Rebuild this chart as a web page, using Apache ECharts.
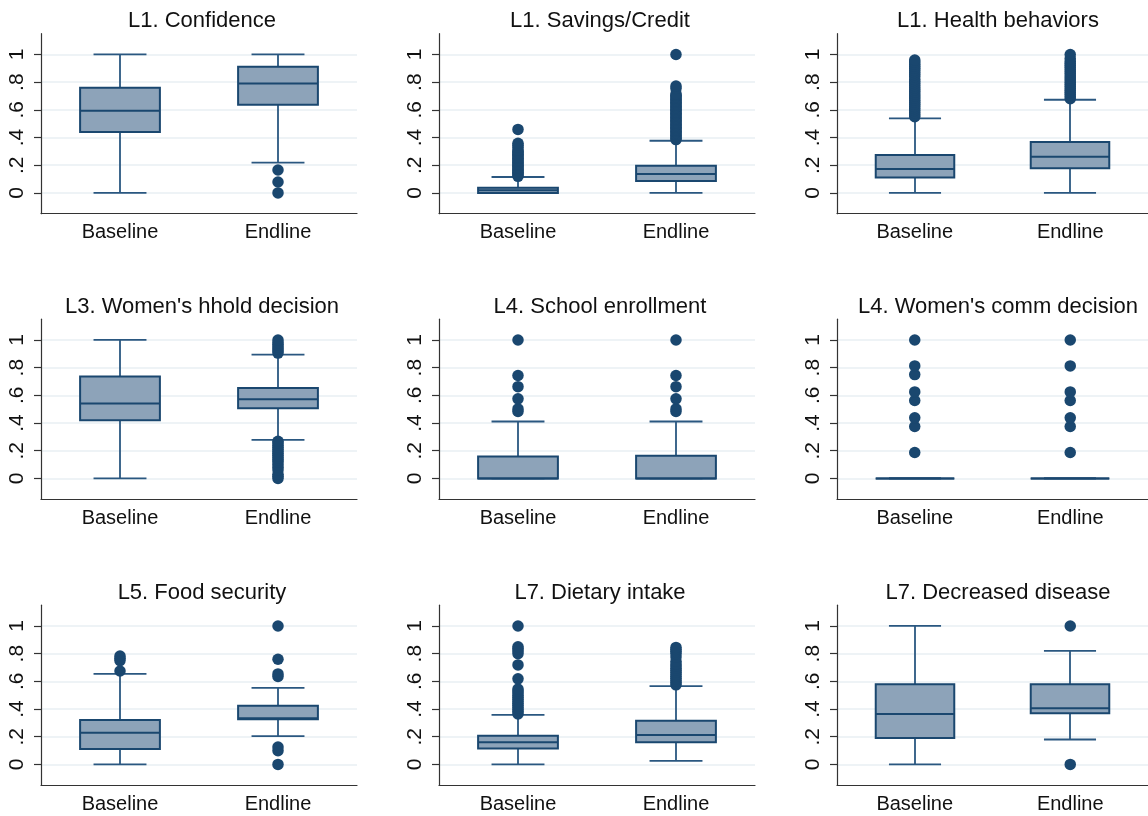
<!DOCTYPE html>
<html><head><meta charset="utf-8">
<script src="https://cdn.jsdelivr.net/npm/echarts@6/dist/echarts.min.js"></script>
<style>html,body{margin:0;padding:0;background:#fff}#c{width:1148px;height:816px}</style>
</head><body><div id="c"></div>
<script>
// ---- data ----
const groups = ['Baseline', 'Endline'];
const panelTitles = ['L1. Confidence', 'L1. Savings/Credit', 'L1. Health behaviors',
  "L3. Women's hhold decision", 'L4. School enrollment', "L4. Women's comm decision",
  'L5. Food security', 'L7. Dietary intake', 'L7. Decreased disease'];
const yTicks = [0, 0.2, 0.4, 0.6, 0.8, 1];
const yTickLabels = ['0', '.2', '.4', '.6', '.8', '1'];

// box stats: [lower whisker, q1, median, q3, upper whisker] for Baseline, Endline
const confidenceBox = [[0, 0.44, 0.594, 0.76, 1.0], [0.219, 0.637, 0.791, 0.911, 1.0]];
const confidenceOut = [[], [0.166, 0.079, 0]];

const savingsBox = [[0, 0, 0.02, 0.038, 0.115], [0, 0.087, 0.137, 0.197, 0.377]];
const savingsOut = [
  [0.12, 0.13, 0.14, 0.15, 0.16, 0.17, 0.18, 0.19, 0.2, 0.21, 0.22, 0.23, 0.24, 0.25, 0.26, 0.27, 0.28, 0.29, 0.3, 0.31, 0.33, 0.345, 0.358, 0.459],
  [0.385, 0.395, 0.405, 0.415, 0.425, 0.435, 0.445, 0.455, 0.465, 0.475, 0.485, 0.495, 0.505, 0.515, 0.525, 0.535, 0.545, 0.555, 0.565, 0.575, 0.585, 0.595, 0.605, 0.615, 0.625, 0.635, 0.645, 0.655, 0.665, 0.675, 0.685, 0.695, 0.705, 0.715, 0.755, 0.772, 1.0]];

const healthBox = [[0, 0.111, 0.173, 0.274, 0.538], [0, 0.178, 0.262, 0.368, 0.673]];
const healthOut = [
  [0.55, 0.565, 0.58, 0.595, 0.61, 0.625, 0.64, 0.655, 0.67, 0.685, 0.70, 0.715, 0.73, 0.745, 0.76, 0.775, 0.79, 0.805, 0.82, 0.84, 0.855, 0.87, 0.885, 0.90, 0.915, 0.93, 0.945, 0.96],
  [0.68, 0.695, 0.71, 0.725, 0.74, 0.755, 0.77, 0.785, 0.80, 0.815, 0.83, 0.845, 0.86, 0.875, 0.89, 0.905, 0.92, 0.935, 0.95, 0.97, 1.0]];

const hholdBox = [[0, 0.421, 0.541, 0.736, 1.0], [0.279, 0.507, 0.572, 0.654, 0.894]];
const hholdOut = [[],
  [0, 0.015, 0.03, 0.06, 0.08, 0.1, 0.12, 0.135, 0.15, 0.165, 0.18, 0.195, 0.21, 0.225, 0.24, 0.255, 0.268, 0.905, 0.92, 0.935, 0.95, 0.965, 0.98, 1.0]];

const schoolBox = [[0, 0, 0, 0.159, 0.411], [0, 0, 0, 0.164, 0.411]];
const schoolOut = [[0.483, 0.502, 0.575, 0.663, 0.743, 1.0], [0.483, 0.502, 0.575, 0.663, 0.743, 1.0]];

const commBox = [[0, 0, 0, 0, 0], [0, 0, 0, 0, 0]];
const commOut = [[0.1875, 0.375, 0.4375, 0.5625, 0.625, 0.75, 0.8125, 1.0],
  [0.1875, 0.375, 0.4375, 0.5625, 0.625, 0.8125, 1.0]];

const foodBox = [[0, 0.111, 0.228, 0.32, 0.654], [0.204, 0.327, 0.333, 0.423, 0.553]];
const foodOut = [[0.675, 0.75, 0.767, 0.783], [0, 0.099, 0.125, 0.635, 0.654, 0.76, 1.0]];

const dietBox = [[0, 0.115, 0.161, 0.207, 0.358], [0.026, 0.161, 0.212, 0.315, 0.565]];
const dietOut = [
  [0.365, 0.38, 0.395, 0.41, 0.425, 0.44, 0.455, 0.47, 0.485, 0.50, 0.515, 0.53, 0.545, 0.618, 0.719, 0.80, 0.82, 0.835, 0.85, 1.0],
  [0.575, 0.59, 0.605, 0.62, 0.635, 0.65, 0.665, 0.68, 0.695, 0.71, 0.725, 0.745, 0.775, 0.80, 0.815, 0.83, 0.845]];

const diseaseBox = [[0, 0.19, 0.365, 0.579, 1.0], [0.18, 0.37, 0.406, 0.579, 0.82]];
const diseaseOut = [[], [0, 1.0]];

const panelBoxes = [confidenceBox, savingsBox, healthBox, hholdBox, schoolBox, commBox, foodBox, dietBox, diseaseBox];
const panelOutliers = [confidenceOut, savingsOut, healthOut, hholdOut, schoolOut, commOut, foodOut, dietOut, diseaseOut];

// ---- styling / layout ----
const LINE = '#1a476f';
const WHISK = '#2a5780';
const FILL = '#8da3b9';
const GRIDC = '#e8eff3';
const AXC = '#333';
const FONT = "'Liberation Sans', Arial, Helvetica, sans-serif";
const colLeft = [41, 439, 837];
const rowTop = [33.7, 319.2, 605.2];
const titleTop = [5, 291, 577];
const GW = 316, GH = 180;

function renderBox(params, api) {
  const x = api.value(0);
  const lo = api.value(1), q1 = api.value(2), md = api.value(3), q3 = api.value(4), hi = api.value(5);
  const band = api.size([1, 0])[0];
  const bw = band * 0.505, cw = band * 0.335;
  const pLo = api.coord([x, lo]), pQ1 = api.coord([x, q1]), pMd = api.coord([x, md]);
  const pQ3 = api.coord([x, q3]), pHi = api.coord([x, hi]);
  const cx = Math.round(pLo[0]);
  const ls = { stroke: WHISK, lineWidth: 1.8 };
  return {
    type: 'group', children: [
      { type: 'line', shape: { x1: cx, y1: pQ3[1], x2: cx, y2: pHi[1] }, style: ls },
      { type: 'line', shape: { x1: cx, y1: pQ1[1], x2: cx, y2: pLo[1] }, style: ls },
      { type: 'line', shape: { x1: cx - cw / 2, y1: pHi[1], x2: cx + cw / 2, y2: pHi[1] }, style: ls },
      { type: 'line', shape: { x1: cx - cw / 2, y1: pLo[1], x2: cx + cw / 2, y2: pLo[1] }, style: ls },
      { type: 'rect', shape: { x: cx - bw / 2, y: pQ3[1], width: bw, height: pQ1[1] - pQ3[1] },
        style: { fill: FILL, stroke: LINE, lineWidth: 2 } },
      { type: 'line', shape: { x1: cx - bw / 2, y1: pMd[1], x2: cx + bw / 2, y2: pMd[1] },
        style: { stroke: LINE, lineWidth: 2 } }
    ]
  };
}

function yLabel(v) {
  const i = yTicks.findIndex(t => Math.abs(t - v) < 1e-9);
  return i >= 0 ? yTickLabels[i] : '';
}

const grids = [], xAxes = [], yAxes = [], titles = [], series = [];
for (let i = 0; i < 9; i++) {
  const r = Math.floor(i / 3), c = i % 3;
  grids.push({ left: colLeft[c], top: rowTop[r], width: GW, height: GH, containLabel: false });
  titles.push({
    text: panelTitles[i], left: colLeft[c] + GW / 2 - 2, top: titleTop[r], textAlign: 'center',
    textStyle: { fontSize: 22, fontWeight: 'normal', color: '#111', fontFamily: FONT }
  });
  xAxes.push({
    gridIndex: i, type: 'category', data: groups, boundaryGap: true, position: 'bottom',
    axisLine: { show: true, onZero: false, lineStyle: { color: AXC, width: 1.2 } },
    axisTick: { show: false },
    axisLabel: { fontSize: 20, color: '#111', margin: 9, fontFamily: FONT },
    splitLine: { show: false }
  });
  yAxes.push({
    gridIndex: i, type: 'value', min: -0.15, max: 1.15, splitNumber: 6,
    axisLine: { show: true, onZero: false, lineStyle: { color: AXC, width: 1.2 } },
    axisTick: { show: true, length: 7, customValues: yTicks, lineStyle: { color: AXC, width: 1.2 } },
    axisLabel: { customValues: yTicks, rotate: 90, margin: 13, fontSize: 21, color: '#111', fontFamily: FONT, formatter: yLabel },
    splitLine: { show: true, lineStyle: { color: GRIDC, width: 1.5 } }
  });
  const boxData = panelBoxes[i].map((b, k) => [k].concat(b));
  series.push({
    type: 'custom', xAxisIndex: i, yAxisIndex: i, renderItem: renderBox,
    encode: { x: 0, y: [1, 2, 3, 4, 5] }, data: boxData, z: 2, silent: true
  });
  const outData = [];
  panelOutliers[i].forEach((arr, k) => arr.forEach(v => outData.push([k, v])));
  series.push({
    type: 'scatter', xAxisIndex: i, yAxisIndex: i, data: outData, symbol: 'circle', symbolSize: 11.5,
    itemStyle: { color: LINE, opacity: 1 }, z: 3, silent: true
  });
}

const chart = echarts.init(document.getElementById('c'), null, { renderer: 'canvas' });
chart.setOption({
  animation: false, backgroundColor: '#fff',
  title: titles, grid: grids, xAxis: xAxes, yAxis: yAxes, series: series
});
</script></body></html>
